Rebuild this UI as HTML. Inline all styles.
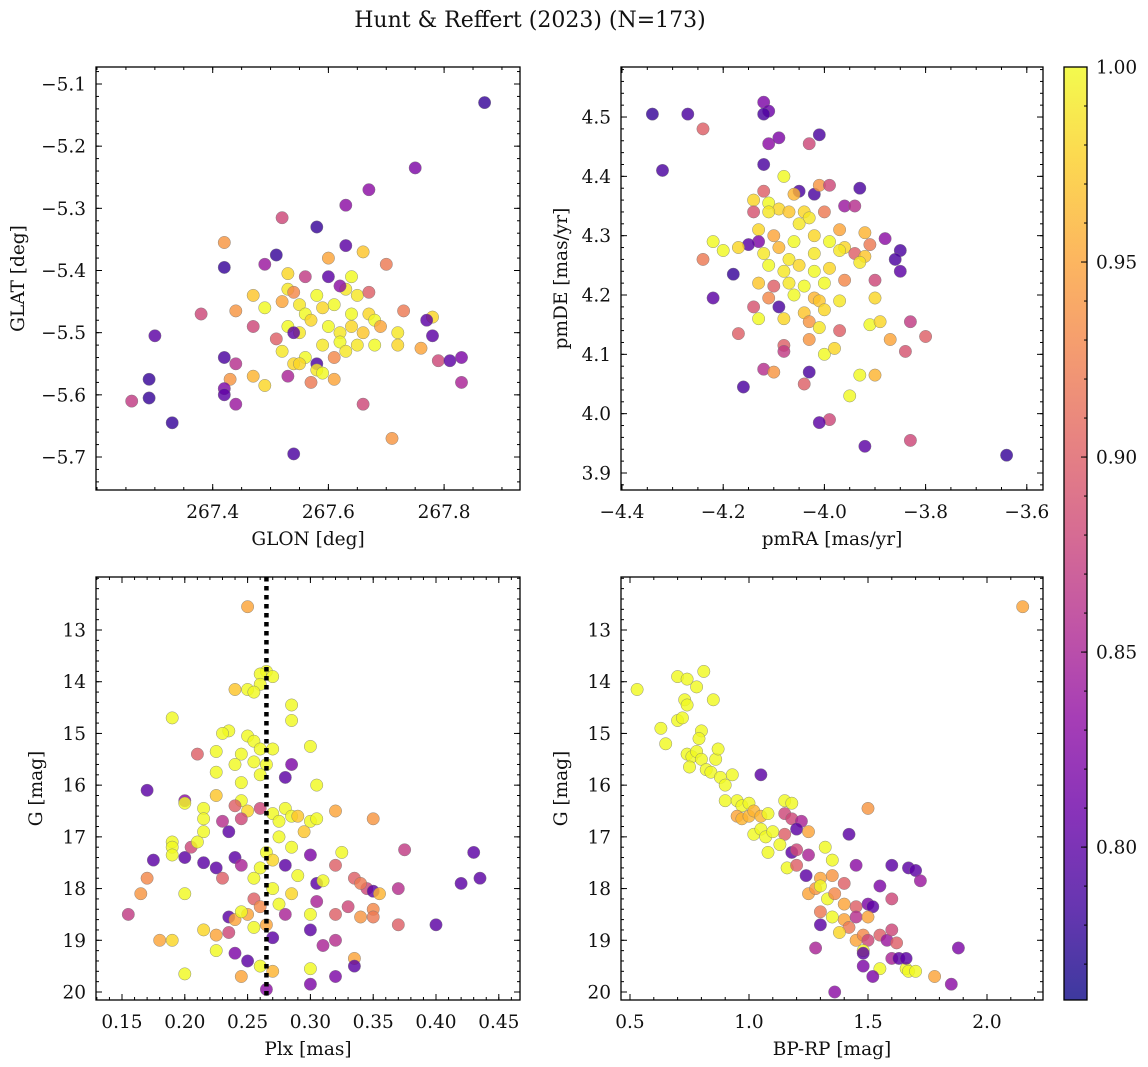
<!DOCTYPE html>
<html><head><meta charset="utf-8"><style>
html,body{margin:0;padding:0;background:#fff}
svg{display:block;font-family:"DejaVu Serif","Liberation Serif",serif}
</style></head><body>
<svg id="fig" width="1148" height="1067" viewBox="0 0 1148 1067" xmlns="http://www.w3.org/2000/svg">
<defs>
<linearGradient id="plasma" x1="0" y1="1" x2="0" y2="0"></linearGradient>
</defs>
<text x="530" y="27" font-size="22" text-anchor="middle" fill="#111">Hunt &amp; Reffert (2023) (N=173)</text>
</svg>
<script>
// ---- panel 1: GLON / GLAT ----
const glon=[267.87,267.75,267.67,267.63,267.58,267.52,267.42,267.51,267.49,267.53,267.63,267.60,267.66,267.42,267.56,267.60,267.64,267.70,267.47,267.53,267.54,267.58,267.63,267.65,267.67,267.62,267.44,267.49,267.52,267.55,267.59,267.61,267.56,267.57,267.64,267.67,267.68,267.73,267.78,267.77,267.38,267.47,267.51,267.53,267.55,267.60,267.62,267.64,267.66,267.69,267.72,267.78,267.59,267.62,267.65,267.68,267.72,267.76,267.52,267.56,267.58,267.61,267.63,267.79,267.81,267.83,267.42,267.44,267.47,267.54,267.55,267.58,267.59,267.61,267.57,267.53,267.49,267.43,267.42,267.42,267.44,267.66,267.30,267.29,267.29,267.26,267.33,267.54,267.71,267.83,267.54];
const glat=[-5.13,-5.235,-5.27,-5.295,-5.33,-5.315,-5.355,-5.375,-5.39,-5.405,-5.36,-5.38,-5.37,-5.395,-5.41,-5.41,-5.41,-5.39,-5.44,-5.43,-5.435,-5.44,-5.43,-5.44,-5.435,-5.425,-5.465,-5.46,-5.45,-5.455,-5.46,-5.455,-5.47,-5.48,-5.47,-5.47,-5.48,-5.465,-5.475,-5.48,-5.47,-5.49,-5.51,-5.49,-5.50,-5.49,-5.50,-5.49,-5.50,-5.49,-5.50,-5.505,-5.52,-5.515,-5.52,-5.52,-5.52,-5.525,-5.53,-5.54,-5.55,-5.54,-5.53,-5.545,-5.545,-5.54,-5.54,-5.55,-5.57,-5.55,-5.55,-5.56,-5.565,-5.575,-5.58,-5.57,-5.585,-5.575,-5.59,-5.60,-5.615,-5.615,-5.505,-5.575,-5.605,-5.61,-5.645,-5.695,-5.67,-5.58,-5.50];
const prob1=[0.78,0.82,0.83,0.83,0.78,0.88,0.94,0.78,0.84,0.98,0.80,0.95,0.97,0.78,0.87,0.80,1.0,0.92,0.97,0.99,0.93,1.0,0.99,0.99,0.90,0.83,0.94,1.0,0.95,0.99,0.98,1.0,1.0,0.98,1.0,0.98,1.0,0.92,0.98,0.80,0.88,0.88,0.90,1.0,0.99,1.0,0.99,0.98,0.97,0.95,0.99,0.80,0.99,1.0,0.99,1.0,0.98,0.95,0.99,1.0,0.79,0.93,0.99,0.88,0.80,0.82,0.79,0.86,0.96,0.98,0.98,0.99,1.0,0.95,0.92,0.85,0.98,0.94,0.82,0.80,0.84,0.88,0.80,0.78,0.78,0.87,0.78,0.79,0.94,0.85,0.80];
// ---- panel 2: pmRA / pmDE ----
const pmra=[-4.34,-4.27,-4.32,-4.24,-4.12,-4.11,-4.12,-4.11,-4.09,-4.03,-4.01,-4.12,-4.08,-4.05,-4.02,-4.01,-3.99,-3.93,-4.06,-4.12,-4.14,-4.11,-4.09,-4.07,-4.14,-4.11,-4.04,-4.03,-4.00,-3.96,-3.94,-4.05,-4.13,-4.10,-3.97,-3.92,-4.13,-4.15,-4.06,-4.02,-3.99,-3.96,-3.91,-3.88,-4.22,-4.20,-4.17,-4.12,-4.09,-4.07,-4.02,-3.97,-3.94,-3.92,-3.85,-3.86,-4.24,-4.18,-4.11,-4.08,-4.05,-4.02,-3.99,-3.93,-3.90,-3.85,-4.13,-4.10,-4.07,-4.04,-4.00,-3.96,-4.22,-4.11,-4.06,-4.02,-4.01,-3.97,-4.14,-4.09,-4.04,-4.00,-3.90,-4.13,-4.08,-4.03,-3.91,-3.89,-3.83,-4.01,-3.97,-4.17,-4.08,-4.08,-4.03,-3.87,-3.80,-4.12,-4.10,-4.00,-3.98,-3.84,-4.03,-3.93,-3.90,-4.16,-4.04,-3.95,-3.99,-4.01,-3.92,-3.83,-3.64];
const pmde=[4.505,4.505,4.41,4.48,4.525,4.51,4.505,4.455,4.465,4.455,4.47,4.42,4.40,4.375,4.37,4.385,4.385,4.38,4.37,4.375,4.36,4.355,4.345,4.34,4.34,4.34,4.34,4.33,4.34,4.35,4.35,4.32,4.31,4.30,4.31,4.305,4.29,4.285,4.29,4.30,4.29,4.28,4.285,4.295,4.29,4.275,4.28,4.27,4.28,4.26,4.27,4.275,4.27,4.265,4.275,4.26,4.26,4.235,4.25,4.24,4.25,4.24,4.245,4.255,4.225,4.24,4.22,4.215,4.22,4.215,4.22,4.225,4.195,4.195,4.20,4.195,4.19,4.19,4.18,4.18,4.17,4.175,4.195,4.16,4.16,4.155,4.15,4.155,4.155,4.145,4.14,4.135,4.115,4.105,4.125,4.125,4.13,4.075,4.07,4.10,4.11,4.105,4.07,4.065,4.065,4.045,4.05,4.03,3.99,3.985,3.945,3.955,3.93];
const prob2=[0.78,0.79,0.79,0.90,0.82,0.81,0.79,0.83,0.82,0.88,0.79,0.79,1.0,0.79,0.79,0.94,0.88,0.79,0.96,0.90,0.98,1.0,0.98,0.97,0.89,0.99,0.98,0.99,0.92,0.84,0.86,0.99,0.98,0.95,0.95,0.96,0.82,0.80,1.0,0.98,1.0,0.98,0.92,0.83,1.0,1.0,0.98,0.99,0.96,0.99,0.99,0.99,0.90,0.97,0.79,0.79,0.92,0.78,1.0,0.99,0.98,1.0,0.98,0.99,0.88,0.80,0.97,0.90,0.99,1.0,1.0,0.93,0.80,0.93,1.0,0.96,0.97,0.99,0.89,0.79,0.97,0.98,0.98,1.0,0.98,0.94,1.0,0.98,0.87,0.99,0.90,0.90,0.90,0.87,0.94,0.95,0.90,0.86,0.94,1.0,0.98,0.89,0.79,1.0,0.96,0.79,0.90,1.0,0.88,0.80,0.80,0.88,0.78];
// ---- panel 3: Plx / G ----
const plx=[0.25,0.265,0.26,0.27,0.24,0.25,0.26,0.255,0.285,0.285,0.19,0.235,0.23,0.25,0.255,0.30,0.21,0.225,0.245,0.26,0.27,0.225,0.24,0.255,0.265,0.28,0.285,0.245,0.26,0.305,0.17,0.20,0.20,0.215,0.225,0.245,0.25,0.24,0.26,0.27,0.275,0.28,0.285,0.29,0.295,0.30,0.305,0.32,0.35,0.215,0.215,0.23,0.235,0.245,0.19,0.19,0.19,0.20,0.205,0.21,0.175,0.215,0.225,0.23,0.24,0.245,0.255,0.26,0.265,0.27,0.275,0.28,0.285,0.29,0.30,0.305,0.31,0.32,0.325,0.335,0.345,0.34,0.35,0.355,0.37,0.375,0.43,0.435,0.42,0.165,0.17,0.20,0.235,0.25,0.255,0.26,0.27,0.275,0.28,0.285,0.30,0.305,0.32,0.33,0.34,0.35,0.35,0.37,0.40,0.155,0.18,0.19,0.215,0.225,0.235,0.24,0.245,0.255,0.265,0.27,0.30,0.31,0.32,0.335,0.335,0.30,0.20,0.225,0.24,0.245,0.25,0.26,0.27,0.265,0.30,0.32];
const gmag3=[12.55,13.8,13.85,13.9,14.15,14.15,14.05,14.2,14.45,14.75,14.7,14.95,15.0,15.05,15.15,15.25,15.4,15.35,15.4,15.3,15.3,15.75,15.6,15.55,15.6,15.85,15.6,15.95,15.8,16.0,16.1,16.3,16.35,16.45,16.2,16.3,16.5,16.4,16.45,16.55,16.7,16.45,16.6,16.6,16.9,16.7,16.65,16.5,16.65,16.65,16.9,16.7,16.9,16.65,17.1,17.2,17.35,17.4,17.2,17.1,17.45,17.5,17.6,17.8,17.4,17.55,17.8,17.6,17.3,17.45,17.0,17.55,17.2,17.75,17.35,17.9,17.85,17.55,17.3,17.8,18.0,17.9,18.05,18.1,18.0,17.25,17.3,17.8,17.9,18.1,17.8,18.1,18.55,18.5,18.2,18.35,18.0,18.3,18.5,18.1,18.5,18.25,18.5,18.35,18.55,18.4,18.55,18.7,18.7,18.5,19.0,19.0,18.8,18.9,18.85,18.6,18.45,18.75,18.7,18.95,18.8,19.1,19.0,19.35,19.5,19.55,19.65,19.2,19.25,19.7,19.4,19.5,19.6,19.95,19.85,19.7];
const prob3=[0.95,1.0,1.0,1.0,0.97,1.0,1.0,1.0,1.0,1.0,1.0,1.0,1.0,1.0,1.0,1.0,0.90,1.0,1.0,1.0,1.0,1.0,1.0,1.0,1.0,0.80,0.82,1.0,1.0,1.0,0.80,0.83,1.0,1.0,0.97,1.0,0.98,0.90,0.88,1.0,1.0,1.0,1.0,0.97,0.97,1.0,1.0,0.95,0.94,1.0,1.0,0.86,0.80,0.88,1.0,1.0,1.0,0.80,0.88,1.0,0.80,0.80,0.80,0.90,0.80,0.85,1.0,1.0,1.0,0.98,1.0,0.80,1.0,1.0,0.82,0.80,1.0,0.90,1.0,0.90,0.88,0.92,0.80,0.96,0.86,0.87,0.80,0.80,0.80,0.94,0.93,1.0,0.80,0.95,0.90,0.93,1.0,1.0,0.85,0.98,1.0,0.85,0.90,0.88,0.94,0.93,0.92,0.90,0.80,0.87,0.95,0.98,0.98,0.95,0.88,0.95,1.0,1.0,0.95,0.80,0.80,0.85,0.86,0.95,0.80,1.0,1.0,1.0,0.82,0.95,0.80,1.0,0.96,0.83,0.82,0.82];
// ---- panel 4: BP-RP / G ----
const bprp=[2.15,0.53,0.70,0.74,0.81,0.78,0.85,0.73,0.74,0.70,0.72,0.63,0.65,0.80,0.79,0.74,0.76,0.78,0.80,0.75,0.82,0.86,0.87,0.84,0.88,0.90,0.93,1.05,0.90,0.95,0.97,1.00,0.95,0.97,1.00,1.02,1.05,1.08,1.15,1.18,1.15,1.18,1.22,1.50,1.02,1.05,1.07,1.10,1.15,1.20,1.25,1.32,1.08,1.13,1.18,1.20,1.25,1.35,1.42,1.16,1.20,1.24,1.30,1.35,1.40,1.45,1.60,1.67,1.70,1.72,1.60,1.25,1.28,1.30,1.33,1.36,1.40,1.45,1.50,1.52,1.55,1.30,1.35,1.40,1.45,1.50,1.42,1.30,1.38,1.45,1.48,1.50,1.48,1.48,1.55,1.58,1.60,1.62,1.28,1.48,1.55,1.60,1.63,1.66,1.67,1.70,1.66,1.78,1.88,1.85,1.52,1.36];
const gmag4=[12.55,14.15,13.9,13.95,13.8,14.1,14.35,14.35,14.45,14.75,14.7,14.9,15.2,14.95,15.1,15.4,15.45,15.35,15.5,15.65,15.7,15.5,15.3,15.75,15.85,16.0,15.8,15.8,16.3,16.3,16.4,16.35,16.6,16.65,16.6,16.5,16.6,16.55,16.3,16.35,16.55,16.65,16.7,16.45,16.95,16.85,17.0,16.9,16.95,16.85,16.9,17.2,17.3,17.15,17.3,17.25,17.35,17.45,16.95,17.6,17.55,17.75,17.8,17.75,17.9,17.55,17.55,17.6,17.65,17.85,18.2,18.1,18.0,17.95,18.2,18.1,18.3,18.35,18.3,18.35,17.95,18.45,18.55,18.6,18.55,18.55,18.75,18.7,18.85,19.0,18.9,19.0,19.2,19.25,18.9,19.0,18.8,19.05,19.15,19.5,19.55,19.35,19.35,19.55,19.6,19.6,19.35,19.7,19.15,19.85,19.7,20.0];
const prob4=[0.95,1.0,1.0,1.0,1.0,1.0,1.0,1.0,1.0,1.0,1.0,1.0,1.0,1.0,1.0,1.0,1.0,1.0,1.0,1.0,1.0,1.0,1.0,1.0,1.0,1.0,1.0,0.80,1.0,1.0,1.0,1.0,0.95,0.96,0.96,0.96,0.96,1.0,1.0,1.0,0.88,0.88,0.85,0.94,1.0,1.0,1.0,1.0,0.90,0.80,0.95,1.0,1.0,1.0,0.80,0.88,0.85,1.0,0.80,1.0,0.90,0.80,0.95,0.94,0.90,0.83,0.80,0.80,0.80,0.84,0.88,0.95,0.94,1.0,1.0,0.93,0.95,0.90,0.82,0.80,0.82,0.92,1.0,0.95,0.86,0.95,0.92,0.80,0.98,0.95,0.93,0.88,1.0,0.80,0.90,0.84,0.88,0.90,0.85,0.82,1.0,0.85,0.80,1.0,1.0,1.0,0.80,0.95,0.82,0.83,0.82,0.83];
// ---- colorbar ----
const cbTicks=[0.80,0.85,0.90,0.95,1.00];
const vmin=0.7608, vmax=1.0;

const NS="http://www.w3.org/2000/svg";
const svg=document.getElementById('fig');
const FS=18.5;
function mk(tag,attrs,parent){const e=document.createElementNS(NS,tag);for(const k in attrs)e.setAttribute(k,attrs[k]);(parent||svg).appendChild(e);return e;}
const stops=[[13,8,135],[65,4,157],[106,0,168],[143,13,164],[177,42,144],[204,71,120],[225,100,98],[242,132,75],[252,166,54],[252,206,37],[240,249,33]];
function plasma(t){t=Math.max(0,Math.min(1,t));const f=t*10,i=Math.min(9,Math.floor(f)),r=f-i;const a=stops[i],b=stops[i+1];return 'rgb('+[0,1,2].map(k=>Math.round(a[k]+(b[k]-a[k])*r)).join(',')+')';}
function color(p){return plasma((p-vmin)/(vmax-vmin));}
const grad=document.getElementById('plasma');
for(let i=0;i<=10;i++){mk('stop',{offset:(i*10)+'%','stop-color':plasma(i/10),'stop-opacity':0.8},grad);}

function panel(cfg){
  const {L,R,T,B,x0,x1,y0,y1,name}=cfg;
  const sx=v=>L+(v-x0)/(x1-x0)*(R-L), sy=v=>T+(v-y0)/(y1-y0)*(B-T);
  const g=mk('g',{});
  
  
  const clipId=name+'-clip';
  const cp=mk('clipPath',{id:clipId},g);mk('rect',{x:L,y:T,width:R-L,height:B-T},cp);
  const pts=mk('g',{'clip-path':'url(#'+clipId+')'},g);
  
  
  for(let i=0;i<cfg.xs.length;i++){
    const c=mk('circle',{cx:sx(cfg.xs[i]).toFixed(1),cy:sy(cfg.ys[i]).toFixed(1),r:6.2,fill:color(cfg.ps[i]),'fill-opacity':0.82,stroke:'#777','stroke-width':0.5,'stroke-opacity':0.8},pts);
    
    
  }
  if(cfg.vline!==undefined){
    const vl=mk('line',{x1:sx(cfg.vline),x2:sx(cfg.vline),y1:T,y2:B,stroke:'#000','stroke-width':4.5,'stroke-dasharray':'4.5 4.5'},g);
    
    
  }
  const tk=mk('g',{stroke:'#000','stroke-width':1},g);
  const eps=1e-9;
  function range(a,b,s){const out=[];const st=Math.ceil((a-eps)/s);for(let k=st;k*s<=b+eps;k++)out.push(k*s);return out;}
  range(Math.min(x0,x1),Math.max(x0,x1),cfg.xminor).forEach(v=>{const X=sx(v);mk('line',{x1:X,x2:X,y1:B,y2:B-3},tk);mk('line',{x1:X,x2:X,y1:T,y2:T+3},tk);});
  range(Math.min(y0,y1),Math.max(y0,y1),cfg.yminor).forEach(v=>{const Y=sy(v);mk('line',{x1:L,x2:L+3,y1:Y,y2:Y},tk);mk('line',{x1:R,x2:R-3,y1:Y,y2:Y},tk);});
  cfg.xt.forEach(v=>{const X=sx(v);mk('line',{x1:X,x2:X,y1:B,y2:B-6},tk);mk('line',{x1:X,x2:X,y1:T,y2:T+6},tk);
    const t=mk('text',{x:X,y:B+28,'font-size':FS,'text-anchor':'middle',fill:'#111'},g);t.textContent=cfg.xf(v);
    });
  cfg.yt.forEach(v=>{const Y=sy(v);mk('line',{x1:L,x2:L+6,y1:Y,y2:Y},tk);mk('line',{x1:R,x2:R-6,y1:Y,y2:Y},tk);
    const t=mk('text',{x:L-10,y:Y+6.5,'font-size':FS,'text-anchor':'end',fill:'#111'},g);t.textContent=cfg.yf(v);
    });
  mk('rect',{x:L,y:T,width:R-L,height:B-T,fill:'none',stroke:'#000','stroke-width':1.3},g);
  const xl=mk('text',{x:(L+R)/2,y:B+55,'font-size':FS,'text-anchor':'middle',fill:'#111'},g);xl.textContent=cfg.xlabel;
  
  const yx=cfg.ylabX, yc=(T+B)/2;
  const yl=mk('text',{x:yx,y:yc,'font-size':FS,'text-anchor':'middle',fill:'#111',transform:'rotate(-90 '+yx+' '+yc+')'},g);yl.textContent=cfg.ylabel;
  
}
const fx1=v=>{const s=Math.abs(v).toFixed(1);return (v<0?'\u2212':'')+s;};
panel({name:'glon-glat',L:96,R:520,T:67,B:490,x0:267.4-116.7/578.5,x1:267.4+307.3/578.5,y0:-5.1+17/622,y1:-5.7-33/622,
  xs:glon,ys:glat,ps:prob1,xt:[267.4,267.6,267.8],yt:[-5.1,-5.2,-5.3,-5.4,-5.5,-5.6,-5.7],xminor:0.05,yminor:0.02,
  xf:v=>v.toFixed(1),yf:fx1,xlabel:'GLON [deg]',ylabel:'GLAT [deg]',ylabX:24});
panel({name:'pmra-pmde',L:621,R:1043,T:67,B:490,x0:-4.4-1/506,x1:-4.4+421/506,y0:4.5+50/593,y1:3.9-17/593,
  xs:pmra,ys:pmde,ps:prob2,xt:[-4.4,-4.2,-4.0,-3.8,-3.6],yt:[4.5,4.4,4.3,4.2,4.1,4.0,3.9],xminor:0.05,yminor:0.02,
  xf:fx1,yf:v=>v.toFixed(1),xlabel:'pmRA [mas/yr]',ylabel:'pmDE [mas/yr]',ylabX:567});
panel({name:'plx-g',L:96,R:520,T:577,B:1000,x0:0.15-26/1256,x1:0.15+398/1256,y0:13-53/51.7,y1:20+8/51.7,
  xs:plx,ys:gmag3,ps:prob3,xt:[0.15,0.2,0.25,0.3,0.35,0.4,0.45],yt:[13,14,15,16,17,18,19,20],xminor:0.01,yminor:0.2,
  xf:v=>v.toFixed(2),yf:v=>String(v),xlabel:'Plx [mas]',ylabel:'G [mag]',ylabX:42,vline:0.265});
panel({name:'bprp-g',L:621,R:1043,T:577,B:1000,x0:0.5-9/238,x1:0.5+413/238,y0:13-53/51.7,y1:20+8/51.7,
  xs:bprp,ys:gmag4,ps:prob4,xt:[0.5,1.0,1.5,2.0],yt:[13,14,15,16,17,18,19,20],xminor:0.1,yminor:0.2,
  xf:v=>v.toFixed(1),yf:v=>String(v),xlabel:'BP-RP [mag]',ylabel:'G [mag]',ylabX:567});

(function(){
  const L=1064,R=1087,T=67,B=1000;
  const sy=v=>T+(vmax-v)/(vmax-vmin)*(B-T);
  const g=mk('g',{});
  
  
  mk('rect',{x:L,y:T,width:R-L,height:B-T,fill:'url(#plasma)'},g);
  const tk=mk('g',{stroke:'#000','stroke-width':1},g);
  for(let v=0.77;v<=1.0001;v+=0.01){const Y=sy(v);mk('line',{x1:R,x2:R-3,y1:Y,y2:Y},tk);}
  cbTicks.forEach(v=>{const Y=sy(v);mk('line',{x1:R,x2:R-6,y1:Y,y2:Y},tk);
    const t=mk('text',{x:R+9,y:Y+6.5,'font-size':FS,fill:'#111'},g);t.textContent=v.toFixed(2);
    });
  mk('rect',{x:L,y:T,width:R-L,height:B-T,fill:'none',stroke:'#000','stroke-width':1.3},g);
})();
</script>
</body></html>
